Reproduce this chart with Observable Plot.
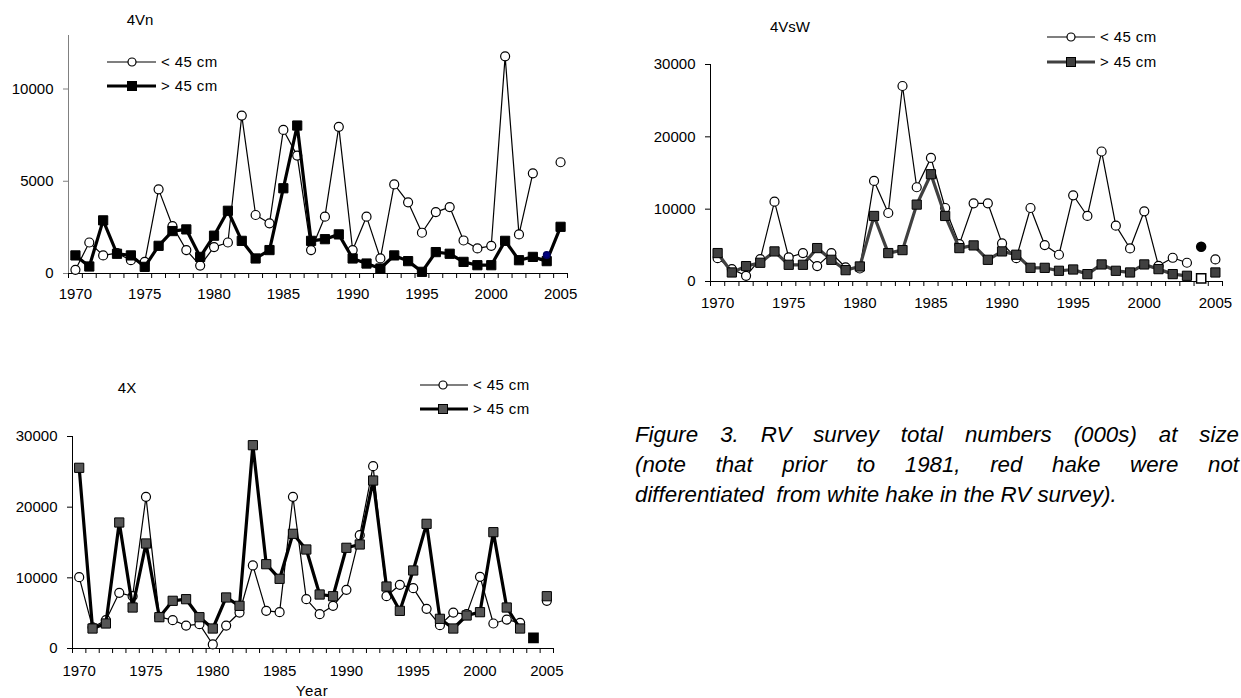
<!DOCTYPE html>
<html>
<head>
<meta charset="utf-8">
<script src="https://cdn.jsdelivr.net/npm/d3@7"></script>
<script src="https://cdn.jsdelivr.net/npm/@observablehq/plot@0.6"></script>
<style>
  html, body { margin: 0; padding: 0; background: #fff; }
  body { width: 1241px; height: 698px; overflow: hidden; position: relative;
         font-family: "Liberation Sans", Arial, sans-serif; color: #000; }
  .panel { position: absolute; }
  #overlay { position: absolute; left: 0; top: 0; pointer-events: none; }
  .caption { position: absolute; left: 635px; top: 420px; width: 604px;
             font-size: 22.3px; font-style: italic; line-height: 30px; }
  .caption .j { text-align: justify; text-align-last: justify; white-space: nowrap; }
  .caption .l { text-align: left; white-space: pre; }
  .xlabel { position: absolute; left: 262px; top: 683px; width: 100px; text-align: center;
            font-size: 15px; line-height: 15px; letter-spacing: 0.5px; }
</style>
</head>
<body>
<div id="p1" class="panel" style="left:0px;top:0px"></div>
<div id="p2" class="panel" style="left:620px;top:0px"></div>
<div id="p3" class="panel" style="left:0px;top:360px"></div>
<div class="xlabel">Year</div>
<div class="caption">
  <div class="j">Figure 3. RV survey total numbers (000s) at size</div>
  <div class="j">(note that prior to 1981, red hake were not</div>
  <div class="l">differentiated  from white hake in the RV survey).</div>
</div>
<svg id="overlay" width="1241" height="698"></svg>
<script>
// ---------- data ----------
const years = [1970,1971,1972,1973,1974,1975,1976,1977,1978,1979,
               1980,1981,1982,1983,1984,1985,1986,1987,1988,1989,
               1990,1991,1992,1993,1994,1995,1996,1997,1998,1999,
               2000,2001,2002,2003,2004,2005];
const yearTickLabels = [1970,1975,1980,1985,1990,1995,2000,2005];
const seriesNames = ["< 45 cm", "> 45 cm"];

// 4Vn
const vnSmall = [200,1680,980,1100,720,630,4560,2570,1270,430,
                 1430,1680,8560,3170,2720,7780,6390,1270,3080,7950,
                 1270,3080,815,4830,3860,2210,3330,3600,1790,1360,
                 1500,11770,2120,5430,null,6030];
const vnLarge = [980,380,2880,1070,980,360,1500,2300,2390,900,
                 2050,3400,1770,815,1270,4620,8020,1770,1860,2120,
                 815,540,270,980,670,90,1160,1070,630,450,
                 450,1770,720,900,670,2530];
const vnExtra = [{year: 2004, value: 1000}];
const vnYTicks = [0,5000,10000];

// 4VsW
const vswSmall = [3230,1710,790,3100,11040,3330,3930,2130,3930,1940,
                  1800,13900,9470,27030,13030,17090,10160,5170,10810,10810,
                  5270,3230,10160,5040,3700,11920,9060,17970,7720,4570,
                  9700,2170,3280,2590,null,3050];
const vswLarge = [3930,1250,2130,2590,4160,2310,2310,4620,3000,1570,
                  2080,9060,3930,4340,10630,14830,9060,4620,4990,3000,
                  4160,3700,1890,1890,1480,1660,1020,2360,1480,1250,
                  2360,1710,1020,790,null,1250];
const vswExtraCircle = [{year: 2004, value: 4800}];
const vswExtraSquare = [{year: 2004, value: 420}];
const vswYTicks = [0,10000,20000,30000];

// 4X
const x4Small = [10090,3000,4010,7880,7400,21460,4480,4010,3250,3440,
                 570,3250,5090,11750,5330,5140,21460,6980,4860,6040,
                 8300,16040,25800,7400,9010,8540,5610,3300,5090,4860,
                 10140,3540,4100,3630,null,6750];
const x4Large = [25570,2830,3540,17830,5800,14860,4430,6750,6980,4430,
                 2830,7220,6040,28770,11930,9860,16230,14010,7640,7400,
                 14250,14720,23770,8770,5330,11040,17640,4200,2830,4670,
                 5140,16460,5800,2830,null,7400];
const x4ExtraSquare = [{year: 2004, value: 1510}];
const x4YTicks = [0,10000,20000,30000];

// ---------- drawing ----------
const boundaries = years.map(y => y - 0.5).concat([years[years.length - 1] + 0.5]);
const xDomain = [boundaries[0], boundaries[boundaries.length - 1]];

function panel(cfg) {
  const data = years.map((y, i) => ({year: y, small: cfg.small[i], large: cfg.large[i]}));
  const marks = [
    Plot.axisX({ticks: boundaries, tickSize: 5, tickFormat: () => "", stroke: "black"}),
    Plot.axisX({ticks: yearTickLabels, tickSize: 0, tickPadding: cfg.xPad, tickFormat: d => String(d)}),
    Plot.axisY({ticks: cfg.yTicks, tickSize: 5, tickPadding: 10, tickFormat: d => String(d), stroke: cfg.yAxisColor}),
    Plot.ruleX([xDomain[0]], {y1: 0, y2: cfg.yMax, stroke: cfg.yAxisColor}),
    Plot.ruleY([0], {stroke: "black"}),
    Plot.line(data, {x: "year", y: "small", stroke: "black", strokeWidth: 1.2}),
    Plot.dot(data.filter(d => d.small != null), {x: "year", y: "small", r: 4.5, fill: "white", stroke: "black", strokeWidth: 1.2}),
    Plot.line(data, {x: "year", y: "large", stroke: cfg.lineColor, strokeWidth: 3.2}),
    Plot.dot(data.filter(d => d.large != null), {x: "year", y: "large", symbol: "square", r: 5.2, fill: cfg.sqFill, stroke: "black", strokeWidth: 1})
  ].concat(cfg.extra || []);
  return Plot.plot({
    width: cfg.width, height: cfg.height,
    marginLeft: cfg.ml, marginRight: cfg.mr, marginTop: cfg.mt, marginBottom: cfg.mb,
    x: {domain: xDomain, label: null},
    y: {domain: [0, cfg.yMax], label: null},
    style: {fontFamily: '"Liberation Sans", Arial, sans-serif', fontSize: "15px", color: "black", background: "transparent", overflow: "visible"},
    marks
  });
}

document.getElementById("p1").append(panel({
  small: vnSmall, large: vnLarge, yMax: 12900, yTicks: vnYTicks,
  lineColor: "black", sqFill: "black", yAxisColor: "#808080", xPad: 15,
  width: 600, height: 310, ml: 68, mr: 33, mt: 35, mb: 37,
  extra: [Plot.dot(vnExtra, {x: "year", y: "value", r: 3.2, fill: "#000080", stroke: "#000060"})]
}));

document.getElementById("p2").append(panel({
  small: vswSmall, large: vswLarge, yMax: 30000, yTicks: vswYTicks,
  lineColor: "#404040", sqFill: "#404040", yAxisColor: "black", xPad: 16,
  width: 621, height: 330, ml: 90, mr: 19, mt: 64, mb: 49,
  extra: [
    Plot.dot(vswExtraCircle, {x: "year", y: "value", r: 4.5, fill: "black", stroke: "black"}),
    Plot.dot(vswExtraSquare, {x: "year", y: "value", symbol: "square", r: 5.2, fill: "white", stroke: "black"})
  ]
}));

document.getElementById("p3").append(panel({
  small: x4Small, large: x4Large, yMax: 30000, yTicks: x4YTicks,
  lineColor: "black", sqFill: "#555555", yAxisColor: "black", xPad: 17,
  width: 600, height: 338, ml: 72, mr: 47, mt: 76, mb: 50,
  extra: [Plot.dot(x4ExtraSquare, {x: "year", y: "value", symbol: "square", r: 5.2, fill: "black", stroke: "black"})]
}));

// ---------- titles and legends ----------
const ov = d3.select("#overlay");
const titles = [
  {text: "4Vn", x: 140, y: 20},
  {text: "4VsW", x: 790, y: 27},
  {text: "4X", x: 127, y: 388}
];
ov.selectAll("text.title").data(titles).join("text")
  .attr("class", "title").attr("x", d => d.x).attr("y", d => d.y)
  .attr("dy", "0.35em").attr("text-anchor", "middle")
  .style("font-size", "15px").style("font-family", '"Liberation Sans", Arial, sans-serif')
  .text(d => d.text);

const legends = [
  {x0: 107, x1: 156, xm: 132, y: [62, 86], lineColor: "black", sqFill: "black"},
  {x0: 1047, x1: 1095, xm: 1071, y: [37, 62], lineColor: "#404040", sqFill: "#404040"},
  {x0: 420, x1: 468, xm: 443, y: [385, 409], lineColor: "black", sqFill: "#555555"}
];
legends.forEach(L => {
  const g = ov.append("g");
  g.append("line").attr("x1", L.x0).attr("x2", L.x1).attr("y1", L.y[0]).attr("y2", L.y[0])
    .attr("stroke", "black").attr("stroke-width", 1.2);
  g.append("circle").attr("cx", L.xm).attr("cy", L.y[0]).attr("r", 4)
    .attr("fill", "white").attr("stroke", "black").attr("stroke-width", 1.2);
  g.append("line").attr("x1", L.x0).attr("x2", L.x1).attr("y1", L.y[1]).attr("y2", L.y[1])
    .attr("stroke", L.lineColor).attr("stroke-width", 3.2);
  g.append("rect").attr("x", L.xm - 4.5).attr("y", L.y[1] - 4.5).attr("width", 9).attr("height", 9)
    .attr("fill", L.sqFill).attr("stroke", "black");
  seriesNames.forEach((name, i) => {
    g.append("text").attr("x", L.x1 + 5).attr("y", L.y[i]).attr("dy", "0.35em")
      .style("font-size", "15px").style("letter-spacing", "0.4px")
      .style("font-family", '"Liberation Sans", Arial, sans-serif')
      .text(name);
  });
});
</script>
</body>
</html>
